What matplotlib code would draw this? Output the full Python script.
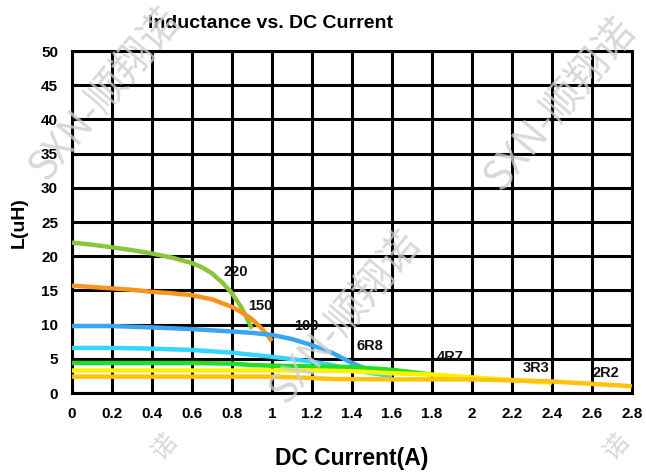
import matplotlib
matplotlib.use("Agg")
import matplotlib.pyplot as plt

# --- data ---
x_220 = [0, 0.1, 0.2, 0.3, 0.4, 0.5, 0.6, 0.65, 0.7, 0.75, 0.8, 0.85, 0.9]
y_220 = [22.0, 21.7, 21.3, 20.9, 20.4, 19.8, 19.0, 18.4, 17.5, 16.2, 14.6, 12.4, 9.4]

x_150 = [0, 0.1, 0.2, 0.3, 0.4, 0.5, 0.6, 0.7, 0.8, 0.85, 0.9, 0.95, 1.0]
y_150 = [15.7, 15.5, 15.3, 15.1, 14.8, 14.6, 14.3, 13.7, 12.6, 11.8, 10.8, 9.4, 7.6]

x_100 = [0, 0.2, 0.4, 0.6, 0.8, 0.9, 1.0, 1.1, 1.2, 1.3, 1.4, 1.5, 1.6]
y_100 = [9.8, 9.8, 9.6, 9.35, 9.0, 8.8, 8.5, 7.9, 7.0, 5.9, 4.4, 3.2, 2.3]

x_6r8 = [0, 0.2, 0.4, 0.6, 0.8, 1.0, 1.2, 1.3, 1.4, 1.5, 1.6]
y_6r8 = [6.6, 6.6, 6.5, 6.3, 5.9, 5.3, 4.6, 4.1, 3.4, 2.9, 2.5]

x_4r7 = [0, 0.6, 0.8, 0.9, 1.0, 1.2, 1.4, 1.6, 1.8, 1.9, 2.0]
y_4r7 = [4.4, 4.4, 4.3, 4.1, 4.0, 3.9, 3.8, 3.4, 2.7, 2.3, 2.0]

x_3r3 = [0, 1.2, 1.4, 1.6, 1.8, 2.0, 2.2, 2.4]
y_3r3 = [3.3, 3.3, 3.2, 2.9, 2.7, 2.3, 1.9, 1.5]

x_2r2 = [0, 1.0, 1.2, 1.3, 1.6, 2.0, 2.2, 2.4, 2.6, 2.8]
y_2r2 = [2.4, 2.4, 2.2, 2.05, 2.0, 2.0, 1.85, 1.7, 1.35, 1.0]

series = [
    ("220", x_220, y_220, "#8CC43C"),
    ("150", x_150, y_150, "#F7931E"),
    ("100", x_100, y_100, "#3BA6F0"),
    ("6R8", x_6r8, y_6r8, "#33D6FF"),
    ("4R7", x_4r7, y_4r7, "#22DD22"),
    ("3R3", x_3r3, y_3r3, "#FFF200"),
    ("2R2", x_2r2, y_2r2, "#FFC20E"),
]

label_pos = {
    "220": (0.82, 17.7),
    "150": (0.94, 12.7),
    "100": (1.17, 9.8),
    "6R8": (1.49, 6.9),
    "4R7": (1.89, 5.2),
    "3R3": (2.32, 3.6),
    "2R2": (2.67, 3.0),
}

x_ticks = [0, 0.2, 0.4, 0.6, 0.8, 1, 1.2, 1.4, 1.6, 1.8, 2, 2.2, 2.4, 2.6, 2.8]
x_ticklabels = ["0", "0.2", "0.4", "0.6", "0.8", "1", "1.2", "1.4", "1.6",
                "1.8", "2", "2.2", "2.4", "2.6", "2.8"]
y_ticks = [0, 5, 10, 15, 20, 25, 30, 35, 40, 45, 50]

plt.rcParams["font.family"] = ["Liberation Sans", "DejaVu Sans"]

fig = plt.figure(figsize=(6.46, 4.73), dpi=100)
ax = fig.add_axes([0.1115, 0.169, 0.8665, 0.723])

for name, xs, ys, color in series:
    ax.plot(xs, ys, color=color, linewidth=3.2, solid_capstyle="butt",
            solid_joinstyle="round", zorder=3)

for name, (lx, ly) in label_pos.items():
    ax.text(lx, ly, name, ha="center", va="center", fontsize=10.5,
            fontweight="bold", color="#111111", zorder=4)

ax.set_xlim(0, 2.8)
ax.set_ylim(0, 50)
ax.set_xticks(x_ticks)
ax.set_xticklabels(x_ticklabels)
ax.set_yticks(y_ticks)
ax.grid(True, color="black", linewidth=2.2, zorder=1)
ax.set_axisbelow(True)
for sp in ax.spines.values():
    sp.set_linewidth(2.2)
ax.tick_params(length=0, labelsize=11, pad=10)
for lab in ax.get_xticklabels() + ax.get_yticklabels():
    lab.set_fontweight("bold")

ax.set_xlabel("DC Current(A)", fontsize=16.5, fontweight="bold", labelpad=19)
ax.set_ylabel("L(uH)", fontsize=14, fontweight="bold", labelpad=10)
fig.text(0.418, 0.951, "Inductance vs. DC Current", fontsize=14,
         fontweight="bold", ha="center", va="center")

# watermark
wm_font = ["Noto Sans CJK SC", "DejaVu Sans"]
for cx, cy in [(0.163, 0.80), (0.534, 0.328), (0.867, 0.78)]:
    fig.text(cx, cy, "SXN-顺翔诺", rotation=50, fontsize=29, color="#CFCFCF",
             alpha=0.8, ha="center", va="center", family=wm_font, zorder=10)
for cx, cy in [(0.255, 0.055), (0.955, 0.055)]:
    fig.text(cx, cy, "诺", rotation=50, fontsize=18, color="#CFCFCF",
             alpha=0.8, ha="center", va="center", family=wm_font, zorder=10)

fig.savefig("out.png", dpi=100)
